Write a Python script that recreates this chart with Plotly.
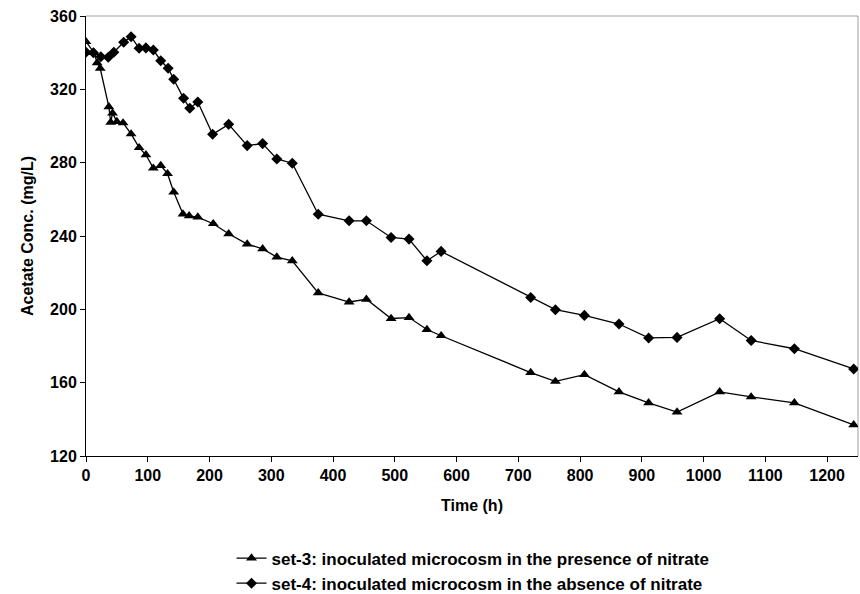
import plotly.graph_objects as go

# set-3 (triangles)
t3 = [0, 13, 18, 23, 37, 40, 43, 50, 60, 73, 86, 97, 109, 121, 132, 142, 157, 167, 181, 206,
      231, 261, 286, 309, 334, 376, 426, 454, 494, 523, 552, 575, 720, 760, 807, 863, 911,
      957, 1026, 1077, 1147, 1243]
c3 = [346, 340, 334.5, 331.5, 310.5, 302, 307, 302.4, 301.7, 295.7, 288.2, 284.3, 277, 278.4,
      274, 264, 252, 251, 250.3, 246.7, 241.2, 235.6, 233, 228.5, 226.5, 209, 204, 205.5, 195,
      195.5, 189, 185.6, 165.5, 160.7, 164.4, 155, 149, 144, 155, 152.2, 149, 137]

# set-4 (diamonds)
t4 = [0, 12, 24, 36, 45, 61, 73, 86, 97, 109, 121, 133, 142, 158, 168, 181, 205, 231, 261,
      286, 309, 334, 376, 426, 454, 494, 523, 552, 575, 720, 760, 807, 863, 911, 957, 1026,
      1077, 1147, 1243]
c4 = [340.2, 340, 337.8, 337.5, 340.2, 345.7, 348.7, 342.4, 342.6, 341.5, 335.6, 331.5, 325.5,
      315.1, 309.7, 313.1, 295.5, 300.9, 289.3, 290.4, 282, 279.7, 251.9, 248.3, 248.3, 239.2,
      238.3, 226.5, 231.6, 206.5, 199.8, 196.7, 192, 184.4, 184.7, 194.9, 183, 178.5, 167.5]

name3 = "set-3: inoculated microcosm in the presence of nitrate"
name4 = "set-4: inoculated microcosm in the absence of nitrate"

FONT = "Liberation Sans"

fig = go.Figure()
fig.add_trace(go.Scatter(x=t3, y=c3, mode="lines+markers", name=name3,
                         line=dict(color="black", width=1.3),
                         marker=dict(symbol="triangle-up", size=9.5, color="black")))
fig.add_trace(go.Scatter(x=t4, y=c4, mode="lines+markers", name=name4,
                         line=dict(color="black", width=1.3),
                         marker=dict(symbol="diamond", size=8.5, color="black")))

fig.update_layout(
    width=860, height=594,
    margin=dict(l=86, r=2, t=16, b=138, autoexpand=False),
    paper_bgcolor="white", plot_bgcolor="white",
    font=dict(family=FONT, size=16, color="black"),
    showlegend=True,
    legend=dict(x=0.55, xref="container", xanchor="center",
                y=0.09, yref="container", yanchor="top",
                font=dict(family=FONT, size=17, color="black", weight="bold"),
                tracegroupgap=0, itemwidth=30),
    xaxis=dict(range=[0, 1250], dtick=100, tick0=0, showgrid=False, zeroline=False,
               showline=True, linecolor="black", linewidth=1, automargin=False,
               ticks="outside", ticklen=5, tickcolor="black",
               tickfont=dict(family=FONT, size=16, weight="bold"),
               title=dict(text="Time (h)", font=dict(family=FONT, size=16, weight="bold"),
                          standoff=16)),
    yaxis=dict(range=[120, 360], dtick=40, tick0=120, showgrid=False, zeroline=False,
               showline=True, linecolor="black", linewidth=1, automargin=False,
               ticks="outside", ticklen=5, tickcolor="black",
               tickfont=dict(family=FONT, size=16, weight="bold"),
               title=dict(text="Acetate Conc. (mg/L)",
                          font=dict(family=FONT, size=16, weight="bold"), standoff=12)),
    shapes=[
        dict(type="line", xref="paper", yref="paper", x0=0, x1=1, y0=1, y1=1,
             line=dict(color="#a0a0a0", width=1), layer="below"),
        dict(type="line", xref="paper", yref="paper", x0=1, x1=1, y0=0, y1=1,
             line=dict(color="#a0a0a0", width=1), layer="below"),
    ],
)

fig.write_html("out.html")
